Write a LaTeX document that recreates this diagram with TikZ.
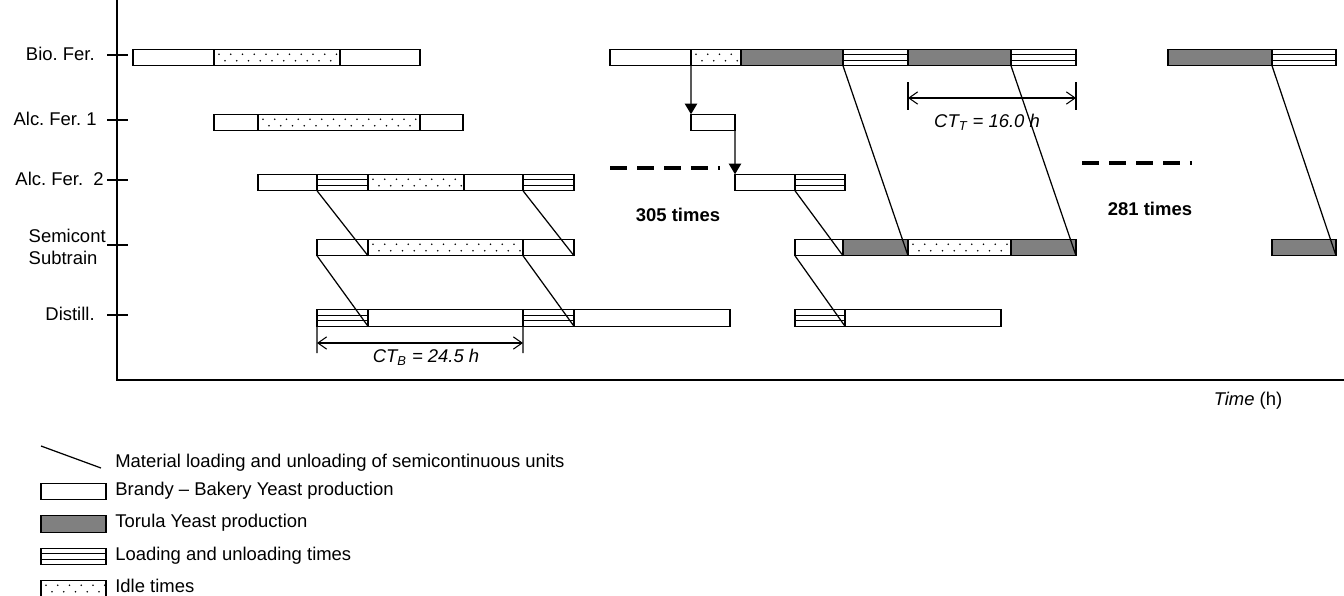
\documentclass[tikz,border=0pt]{standalone}
\usepackage{fontspec}
\setmainfont{Liberation Sans}
\usetikzlibrary{arrows.meta,positioning}
\definecolor{torulagray}{RGB}{128,128,128}
\frenchspacing

% one bar segment: name, start, end, row, style
\newcommand{\gseg}[5]{%
  \pgfmathsetmacro{\segw}{(#3-#2)*0.02}%
  \pgfmathsetmacro{\segx}{(#2+#3)/2}%
  \node[seg,#5,minimum width=\segw cm] (#1) at (\segx,#4) {};}

\begin{document}
\begin{tikzpicture}[x=0.02cm,y=-0.02cm,
  lbl/.style={font=\fontsize{10.5}{12.6}\selectfont,inner sep=0pt},
  seg/.style={draw,line width=0.6pt,inner sep=0pt,outer sep=0pt,minimum height=0.33cm,fill=white},
  torula/.style={fill=torulagray},
  idle/.style={path picture={
    \foreach \k in {0,...,16}{
      \fill[black] ([xshift=\k*0.235cm+0.1cm,yshift=0.23cm]path picture bounding box.south west) circle (0.55pt);
      \fill[black] ([xshift=\k*0.235cm+0.22cm,yshift=0.1cm]path picture bounding box.south west) circle (0.55pt);}}},
  load/.style={path picture={
    \foreach \f in {0.11,0.22}
      \draw[black,line width=0.6pt] ([yshift=\f cm]path picture bounding box.south west) -- ([yshift=\f cm]path picture bounding box.south east);}},
  link/.style={line width=0.7pt},
  steparrow/.style={line width=0.7pt,-{Triangle[length=6pt,width=7pt]}},
  dimline/.style={line width=0.6pt,{Straight Barb[length=5pt,width=7pt]}-{Straight Barb[length=5pt,width=7pt]}},
  gapline/.style={line width=2.2pt,dash pattern=on 0.34cm off 0.2cm}]
\useasboundingbox (0,0) rectangle (1344,595);

% Axes
\draw[line width=0.8pt] (117,0) -- (117,380) -- (1344,380);
\foreach \y in {55,120,180,245,315}
  \draw[line width=0.8pt] (107,\y) -- (128,\y);
\node[lbl,anchor=north] (tlab) at (1248,392) {\textit{Time} (h)};

% Unit labels
\node[lbl,anchor=east] (lbio) at (95,54) {Bio. Fer.};
\node[lbl,anchor=east] (lalc1) at (97,119) {Alc. Fer. 1};
\node[lbl,anchor=east] (lalc2) at (104,179) {Alc. Fer.\ \ 2};
\node[lbl,anchor=east,align=left] (lsemi) at (106,247) {Semicont\\Subtrain};
\node[lbl,anchor=east] (ldist) at (95,314) {Distill.};

% Bio. Fer.
\gseg{b1}{133}{214}{57.5}{}
\gseg{b2}{214}{340}{57.5}{idle}
\gseg{b3}{340}{420}{57.5}{}
\gseg{b4}{610}{691}{57.5}{}
\gseg{b5}{691}{741}{57.5}{idle}
\gseg{b6}{741}{843}{57.5}{torula}
\gseg{b7}{843}{908}{57.5}{load}
\gseg{b8}{908}{1011}{57.5}{torula}
\gseg{b9}{1011}{1076}{57.5}{load}
\gseg{b10}{1168}{1272}{57.5}{torula}
\gseg{b11}{1272}{1336}{57.5}{load}

% Alc. Fer. 1
\gseg{a1}{214}{258}{122.5}{}
\gseg{a2}{258}{420}{122.5}{idle}
\gseg{a3}{420}{463}{122.5}{}
\gseg{a4}{691}{735}{122.5}{}

% Alc. Fer. 2
\gseg{c1}{258}{317}{182.5}{}
\gseg{c2}{317}{368}{182.5}{load}
\gseg{c3}{368}{464}{182.5}{idle}
\gseg{c4}{464}{523}{182.5}{}
\gseg{c5}{523}{574}{182.5}{load}
\gseg{c6}{735}{795}{182.5}{}
\gseg{c7}{795}{845}{182.5}{load}

% Semicont subtrain
\gseg{s1}{317}{368}{247.5}{}
\gseg{s2}{368}{523}{247.5}{idle}
\gseg{s3}{523}{574}{247.5}{}
\gseg{s4}{795}{843}{247.5}{}
\gseg{s5}{843}{908}{247.5}{torula}
\gseg{s6}{908}{1011}{247.5}{idle}
\gseg{s7}{1011}{1076}{247.5}{torula}
\gseg{s8}{1272}{1336}{247.5}{torula}

% Distill.
\gseg{d1}{317}{368}{318}{load}
\gseg{d2}{368}{523}{318}{}
\gseg{d3}{523}{574}{318}{load}
\gseg{d4}{574}{730}{318}{}
\gseg{d5}{795}{845}{318}{load}
\gseg{d6}{845}{1001}{318}{}

% Material transfer to semicontinuous units
\draw[link] (c2.south west) -- (s2.south west);
\draw[link] (s1.south west) -- (d1.south east);
\draw[link] (c5.south west) -- (s3.south east);
\draw[link] (s3.south west) -- (d3.south east);
\draw[link] (c7.south west) -- (s4.south east);
\draw[link] (s4.south west) -- (d5.south east);
\draw[link] (b7.south west) -- (s5.south east);
\draw[link] (b9.south west) -- (s7.south east);
\draw[link] (b11.south west) -- (s8.south east);

% Campaign change
\draw[steparrow] (b5.south west) -- (a4.north west);
\draw[steparrow] (a4.north east) -- (c6.north west);

% Repetitions
\coordinate (g1a) at (610,168);
\coordinate (g1b) at (720,168);
\coordinate (g2a) at (1082,163);
\coordinate (g2b) at (1192,163);
\draw[gapline] (g1a) -- (g1b);
\draw[gapline] (g2a) -- (g2b);
\node[lbl,font=\fontsize{10.5}{12.6}\selectfont\bfseries] (rep1) at (678,215) {305 times};
\node[lbl,font=\fontsize{10.5}{12.6}\selectfont\bfseries] (rep2) at (1150,209) {281 times};

% Cycle time CT_B
\coordinate (ctbA) at (317,353);
\coordinate (ctbB) at (523,353);
\coordinate (ctbL) at (317,343);
\coordinate (ctbR) at (523,343);
\draw[line width=0.6pt] (d1.south west) -- (ctbA);
\draw[line width=0.6pt] (d3.south west) -- (ctbB);
\draw[dimline] (ctbL) -- (ctbR);
\node[lbl] (ctb) at (426,357) {\textit{CT\textsubscript{B} = 24.5 h}};

% Cycle time CT_T
\coordinate (cttA) at (908,82);
\coordinate (cttB) at (908,110);
\coordinate (cttC) at (1076,82);
\coordinate (cttD) at (1076,110);
\coordinate (cttL) at (908,98);
\coordinate (cttR) at (1076,98);
\draw[line width=0.6pt] (cttA) -- (cttB);
\draw[line width=0.6pt] (cttC) -- (cttD);
\draw[dimline] (cttL) -- (cttR);
\node[lbl] (ctt) at (987,122) {\textit{CT\textsubscript{T} = 16.0 h}};

% Legend
\coordinate (lgA) at (41,446);
\coordinate (lgB) at (101,468);
\draw[link] (lgA) -- (lgB);
\node[lbl,anchor=west] (lgt1) at (115,463) {Material loading and unloading of semicontinuous units};
\gseg{lg2}{41}{106}{491.5}{}
\node[lbl,anchor=west] (lgt2) at (115,491) {Brandy -- Bakery Yeast production};
\gseg{lg3}{41}{106}{524}{torula}
\node[lbl,anchor=west] (lgt3) at (115,523) {Torula Yeast production};
\gseg{lg4}{41}{106}{556.5}{load}
\node[lbl,anchor=west] (lgt4) at (115,556) {Loading and unloading times};
\gseg{lg5}{41}{106}{588.5}{idle}
\node[lbl,anchor=west] (lgt5) at (115,586) {Idle times};
\end{tikzpicture}
\end{document}
